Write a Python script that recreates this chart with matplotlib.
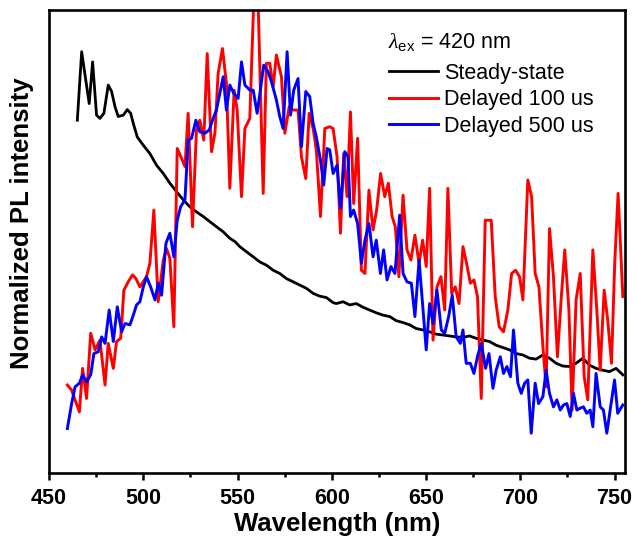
import matplotlib
matplotlib.use("Agg")
import matplotlib.pyplot as plt
from matplotlib.ticker import MultipleLocator

plt.rcParams['font.family'] = ['Liberation Sans', 'DejaVu Sans']
plt.rcParams['mathtext.fontset'] = 'custom'
plt.rcParams['mathtext.rm'] = 'Liberation Sans'
plt.rcParams['mathtext.it'] = 'Liberation Serif:italic'

# steady-state spectrum (normalized)
wl_steady = [465.0, 467.3, 471.3, 473.1, 475.2, 477.0, 479.1, 481.4, 483.2, 485.0,
             486.7, 489.4, 491.5, 493.3, 494.7, 496.8, 500.0, 503.5, 507.0, 510.6,
             514.1, 517.6, 521.2, 524.7, 528.2, 531.8, 535.3, 538.8, 542.4, 545.9,
             548.6, 551.2, 554.7, 558.3, 561.8, 565.3, 568.9, 572.4, 575.9, 579.5,
             583.0, 586.5, 590.1, 593.6, 597.1, 600.7, 602.4, 606.0, 609.5, 613.0,
             616.6, 620.1, 623.6, 627.2, 630.7, 634.2, 637.8, 641.3, 644.8, 648.4,
             651.9, 655.4, 659.0, 662.5, 666.0, 669.6, 673.1, 676.6, 680.2, 683.7,
             687.2, 690.8, 694.3, 697.8, 701.4, 704.9, 708.4, 712.0, 715.5, 719.0,
             722.6, 726.1, 729.6, 733.2, 736.7, 740.2, 743.8, 747.3, 750.8, 754.4]
pl_steady = [0.762, 0.910, 0.798, 0.888, 0.773, 0.766, 0.777, 0.838, 0.824, 0.791,
             0.770, 0.773, 0.785, 0.777, 0.755, 0.726, 0.708, 0.690, 0.665, 0.647,
             0.626, 0.608, 0.590, 0.575, 0.564, 0.554, 0.543, 0.532, 0.521, 0.507,
             0.500, 0.489, 0.478, 0.467, 0.456, 0.449, 0.438, 0.431, 0.420, 0.413,
             0.406, 0.399, 0.388, 0.382, 0.379, 0.368, 0.366, 0.370, 0.363, 0.366,
             0.358, 0.352, 0.346, 0.341, 0.338, 0.329, 0.325, 0.320, 0.312, 0.309,
             0.305, 0.300, 0.298, 0.296, 0.294, 0.293, 0.296, 0.291, 0.287, 0.284,
             0.276, 0.271, 0.266, 0.258, 0.255, 0.248, 0.246, 0.255, 0.248, 0.237,
             0.231, 0.230, 0.237, 0.248, 0.233, 0.226, 0.222, 0.219, 0.226, 0.212]

# delayed spectrum, 100 us
wl_d100 = [459.7, 462.0, 463.8, 466.1, 467.8, 469.9, 472.1, 474.4, 477.0, 479.7,
           481.4, 484.1, 485.8, 488.0, 489.7, 492.0, 494.3, 496.1, 498.2, 501.7,
           503.5, 505.6, 507.9, 510.6, 512.3, 514.1, 516.2, 518.0, 520.3, 522.1,
           523.8, 526.1, 528.2, 530.0, 532.1, 533.9, 536.2, 538.0, 539.7, 542.0,
           544.1, 545.9, 548.2, 549.8, 552.1, 553.9, 556.5, 558.6, 560.9, 563.6,
           565.3, 567.1, 568.9, 570.6, 573.3, 575.1, 577.4, 579.5, 582.1, 583.9,
           586.2, 588.0, 590.1, 591.8, 594.0, 596.3, 598.9, 600.7, 602.8, 604.6,
           606.3, 608.1, 609.9, 611.6, 613.7, 615.7, 617.6, 619.7, 621.9, 623.8,
           625.9, 628.1, 630.0, 632.0, 633.7, 635.6, 637.8, 639.9, 642.0, 644.1,
           646.3, 648.2, 650.1, 651.9, 653.7, 655.8, 657.9, 659.9, 661.6, 663.6,
           665.5, 667.5, 669.6, 671.5, 673.5, 675.4, 677.3, 679.3, 681.4, 684.6,
           686.7, 688.8, 691.1, 693.4, 695.4, 697.5, 699.6, 701.4, 704.0, 706.0,
           707.9, 709.9, 712.0, 713.7, 715.5, 717.6, 719.7, 721.9, 723.6, 725.8,
           727.5, 729.6, 731.8, 733.9, 735.8, 738.5, 740.6, 742.4, 744.5, 746.4,
           748.4, 750.1, 751.9, 754.4]
pl_d100 = [0.190, 0.179, 0.158, 0.132, 0.226, 0.161, 0.302, 0.266, 0.287, 0.190,
           0.280, 0.226, 0.284, 0.291, 0.395, 0.413, 0.428, 0.420, 0.402, 0.424,
           0.453, 0.568, 0.370, 0.460, 0.485, 0.464, 0.316, 0.701, 0.680, 0.662,
           0.777, 0.532, 0.741, 0.762, 0.719, 0.906, 0.694, 0.734, 0.863, 0.917,
           0.842, 0.615, 0.827, 0.784, 0.597, 0.744, 0.766, 1.020, 1.020, 0.604,
           0.885, 0.885, 0.834, 0.903, 0.856, 0.734, 0.791, 0.784, 0.784, 0.683,
           0.636, 0.777, 0.744, 0.698, 0.554, 0.744, 0.748, 0.744, 0.683, 0.518,
           0.690, 0.597, 0.780, 0.582, 0.723, 0.438, 0.431, 0.611, 0.525, 0.568,
           0.647, 0.597, 0.626, 0.554, 0.532, 0.424, 0.600, 0.482, 0.460, 0.514,
           0.453, 0.503, 0.446, 0.615, 0.287, 0.402, 0.424, 0.352, 0.615, 0.388,
           0.402, 0.366, 0.489, 0.453, 0.410, 0.417, 0.381, 0.161, 0.546, 0.546,
           0.381, 0.316, 0.305, 0.352, 0.431, 0.438, 0.424, 0.374, 0.633, 0.597,
           0.431, 0.402, 0.273, 0.186, 0.528, 0.424, 0.251, 0.388, 0.482, 0.352,
           0.136, 0.374, 0.431, 0.208, 0.158, 0.482, 0.352, 0.222, 0.395, 0.330,
           0.237, 0.453, 0.604, 0.381]

# delayed spectrum, 500 us
wl_d500 = [459.7, 462.0, 463.8, 466.1, 467.8, 469.9, 472.1, 473.8, 476.1, 477.9,
           479.7, 481.9, 484.1, 486.2, 488.5, 490.3, 492.9, 494.7, 496.4, 498.2,
           500.0, 501.7, 503.9, 506.2, 507.9, 509.7, 512.0, 514.1, 516.2, 518.0,
           519.8, 522.1, 523.8, 525.6, 527.9, 530.0, 532.7, 535.0, 536.7, 538.8,
           540.6, 542.4, 544.1, 545.9, 548.0, 550.3, 552.1, 553.9, 556.5, 558.3,
           560.4, 562.2, 563.9, 566.2, 568.0, 570.6, 572.4, 574.2, 576.3, 578.1,
           579.8, 582.1, 583.9, 586.2, 588.3, 590.1, 591.8, 594.0, 595.7, 597.5,
           598.9, 600.7, 602.8, 604.6, 606.9, 608.6, 609.9, 611.6, 613.7, 615.7,
           617.6, 619.7, 621.9, 623.6, 625.8, 627.5, 629.3, 631.4, 633.5, 636.0,
           637.8, 639.9, 642.2, 644.1, 646.3, 648.4, 650.1, 651.9, 653.7, 655.8,
           658.1, 659.9, 662.0, 663.9, 666.0, 668.2, 669.6, 671.3, 673.5, 675.4,
           677.5, 679.3, 681.6, 683.4, 685.5, 687.2, 689.4, 691.1, 692.9, 694.8,
           696.4, 698.7, 700.5, 702.3, 704.0, 705.8, 707.9, 709.7, 712.0, 713.7,
           715.5, 717.6, 719.4, 721.2, 722.9, 724.7, 726.5, 728.2, 730.0, 731.8,
           733.5, 735.3, 737.1, 738.5, 740.2, 742.4, 744.1, 745.9, 748.2, 750.0,
           751.7, 754.4]
pl_d500 = [0.096, 0.150, 0.186, 0.194, 0.212, 0.197, 0.212, 0.258, 0.262, 0.294,
           0.280, 0.352, 0.284, 0.359, 0.305, 0.323, 0.320, 0.341, 0.363, 0.370,
           0.402, 0.424, 0.402, 0.374, 0.410, 0.384, 0.496, 0.518, 0.467, 0.546,
           0.575, 0.590, 0.719, 0.723, 0.762, 0.737, 0.734, 0.741, 0.762, 0.784,
           0.820, 0.856, 0.784, 0.838, 0.820, 0.809, 0.888, 0.838, 0.827, 0.827,
           0.777, 0.831, 0.881, 0.867, 0.845, 0.806, 0.770, 0.744, 0.910, 0.773,
           0.827, 0.852, 0.705, 0.824, 0.813, 0.755, 0.726, 0.676, 0.622, 0.701,
           0.698, 0.647, 0.665, 0.572, 0.694, 0.683, 0.554, 0.568, 0.539, 0.453,
           0.503, 0.539, 0.467, 0.503, 0.431, 0.482, 0.417, 0.446, 0.431, 0.557,
           0.431, 0.413, 0.410, 0.338, 0.460, 0.352, 0.266, 0.366, 0.323, 0.395,
           0.309, 0.302, 0.338, 0.384, 0.294, 0.280, 0.309, 0.237, 0.237, 0.215,
           0.255, 0.280, 0.226, 0.258, 0.183, 0.222, 0.251, 0.215, 0.230, 0.208,
           0.309, 0.194, 0.172, 0.194, 0.201, 0.086, 0.194, 0.150, 0.165, 0.222,
           0.172, 0.143, 0.158, 0.136, 0.147, 0.150, 0.122, 0.172, 0.136, 0.140,
           0.143, 0.129, 0.136, 0.100, 0.215, 0.143, 0.136, 0.086, 0.150, 0.201,
           0.129, 0.147]

fig = plt.figure(figsize=(6.37, 5.44), dpi=100)
ax = fig.add_axes([0.077, 0.1305, 0.904, 0.851])

ax.plot(wl_steady, pl_steady, color='black', lw=2.0, label='Steady-state')
ax.plot(wl_d100, pl_d100, color='#ff0000', lw=2.1, label='Delayed 100 us')
ax.plot(wl_d500, pl_d500, color='#0000ff', lw=2.1, label='Delayed 500 us')

ax.set_xlim(450, 755.5)
ax.set_ylim(0, 1)
ax.xaxis.set_major_locator(MultipleLocator(50))
ax.xaxis.set_minor_locator(MultipleLocator(25))
ax.tick_params(axis='x', which='major', direction='out', length=5, width=1.8,
               labelsize=15.5, pad=6)
ax.tick_params(axis='x', which='minor', direction='out', length=3, width=1.8)
ax.set_yticks([])
for lab in ax.get_xticklabels():
    lab.set_fontweight('bold')
for sp in ax.spines.values():
    sp.set_linewidth(1.9)

ax.set_xlabel('Wavelength (nm)', fontsize=18.5, fontweight='bold', labelpad=2)
ax.set_ylabel('Normalized PL intensity', fontsize=18.5, fontweight='bold')
ax.yaxis.set_label_coords(-0.026, 0.54)

ax.text(0.589, 0.931, r'$\mathit{\lambda}_{\mathrm{ex}}$ = 420 nm', fontsize=15.5,
        transform=ax.transAxes, ha='left', va='center')
leg = ax.legend(loc='upper left', bbox_to_anchor=(0.575, 0.905), frameon=False,
                fontsize=15.5, handlelength=2.3, handletextpad=0.25, labelspacing=0.26,
                borderaxespad=0)

fig.savefig('out.png', dpi=100)
